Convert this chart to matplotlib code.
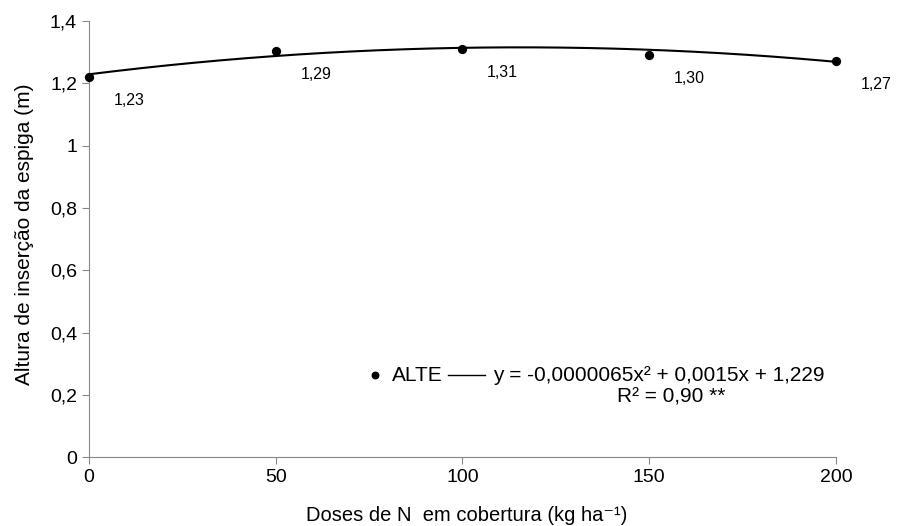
import numpy as np
import matplotlib.pyplot as plt

plt.rcParams['font.family'] = ['Liberation Sans', 'DejaVu Sans']

doses = [0, 50, 100, 150, 200]
alte = [1.22, 1.304, 1.31, 1.29, 1.272]
labels = ['1,23', '1,29', '1,31', '1,30', '1,27']
coef = [-0.0000065, 0.0015, 1.229]

fig = plt.figure(figsize=(8.98, 5.26), dpi=100)
ax = fig.add_axes([0.099, 0.131, 0.832, 0.829])

xs = np.linspace(0, 200, 200)
ax.plot(xs, np.polyval(coef, xs), color='black', lw=1.5, zorder=2)
ax.scatter(doses, alte, color='black', s=32, zorder=3, clip_on=False)

for x, y, t in zip(doses, alte, labels):
    ax.annotate(t, (x, y), xytext=(29, -17), textcoords='offset points',
                ha='center', va='center', fontsize=11.5)

ax.set_xlim(0, 200)
ax.set_ylim(0, 1.4)
ax.set_xticks([0, 50, 100, 150, 200])
ax.set_yticks(np.arange(0, 1.41, 0.2))
ax.set_yticklabels(['0', '0,2', '0,4', '0,6', '0,8', '1', '1,2', '1,4'])
ax.tick_params(direction='out', length=5, color='#888888', labelsize=14)

for s in ['top', 'right']:
    ax.spines[s].set_visible(False)
for s in ['left', 'bottom']:
    ax.spines[s].set_color('#888888')

ax.set_xlabel('Doses de N  em cobertura (kg ha⁻¹)', fontsize=14.5)
ax.set_ylabel('Altura de inserção da espiga (m)', fontsize=15)
ax.xaxis.set_label_coords(0.506, -0.112)
ax.yaxis.set_label_coords(-0.074, 0.511)

# legend drawn by hand as in the original
ax.scatter([76.6], [0.263], color='black', s=22)
ax.text(81.1, 0.263, 'ALTE', va='center', fontsize=15)
ax.plot([96.1, 106.0], [0.263, 0.263], color='black', lw=1)
ax.text(108.2, 0.263, 'y = -0,0000065x² + 0,0015x + 1,229', va='center', fontsize=15)
ax.text(156, 0.193, 'R² = 0,90 **', ha='center', va='center', fontsize=15)

fig.savefig('out.png', dpi=100)
